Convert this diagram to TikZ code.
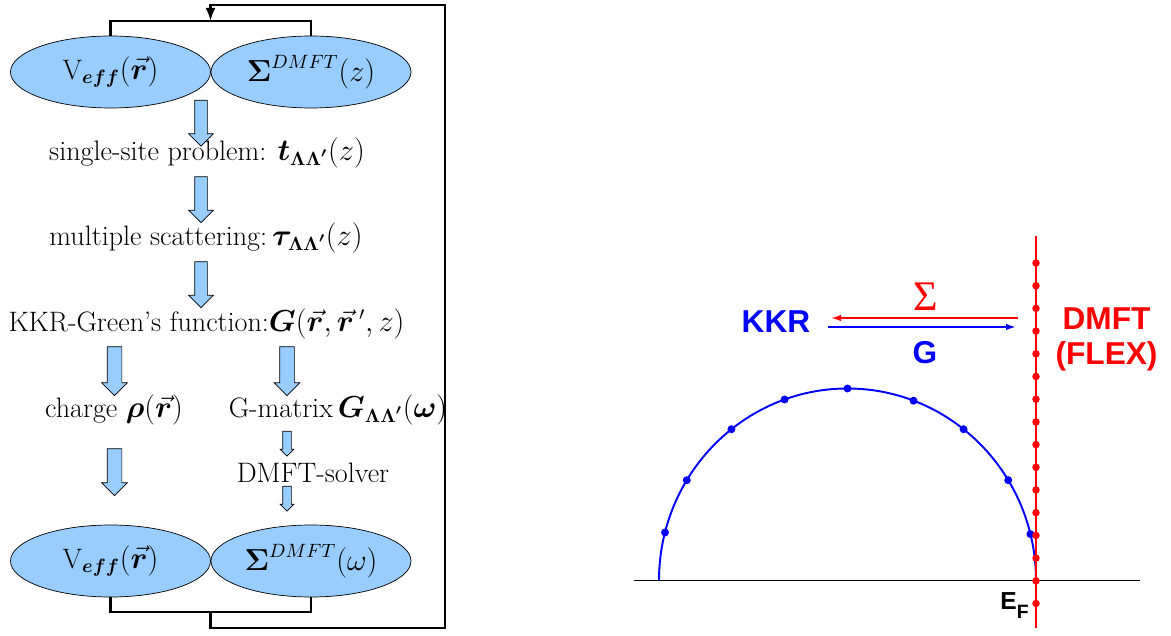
\documentclass[tikz,border=0pt]{standalone}
\usepackage{amsmath,bm}
\usepackage{fontspec}
\setsansfont{Liberation Sans}
\newfontfamily\sigmafont{Liberation Serif}
\usepackage{tikz}
\usetikzlibrary{arrows.meta,positioning,calc,shapes.geometric,shapes.arrows}
\definecolor{FlowBlue}{HTML}{99CCFF}

\tikzset{
  potnode/.style={ellipse, draw, fill=FlowBlue, minimum width=4cm, minimum height=1.44cm, inner sep=0pt},
  blockarr/.style={single arrow, draw, fill=FlowBlue, rotate=-90, inner xsep=0pt},
  widearr/.style={blockarr, inner ysep=0.12cm, single arrow head extend=0.12cm, minimum height=0.92cm},
  sidearr/.style={blockarr, inner ysep=0.14cm, single arrow head extend=0.11cm},
  thinarr/.style={blockarr, inner ysep=0.08cm, single arrow head extend=0.05cm, minimum height=0.5cm},
  looppath/.style={line width=1.6pt},
  steptext/.style={inner sep=1pt},
  bigsans/.style={font=\sffamily\bfseries\fontsize{18}{20}\selectfont}
}

\begin{document}
\begin{tikzpicture}[font=\fontsize{16}{19}\selectfont]
  \useasboundingbox (0,0) rectangle (23.42,12.7);

  % self-consistency loop (left)
  \node[potnode] (veffin) at (2.21,11.26) {$\mathrm{V}_{\bm{eff}}(\vec{\bm r})$};
  \node[potnode] (sigin) at (6.22,11.26) {$\bm{\Sigma}^{DMFT}(z)$};
  \node[potnode] (veffout) at (2.21,1.48) {$\mathrm{V}_{\bm{eff}}(\vec{\bm r})$};
  \node[potnode] (sigout) at (6.22,1.48) {$\bm{\Sigma}^{DMFT}(\omega)$};

  \coordinate (topjoin) at (4.21,12.28);
  \coordinate (botjoin) at (4.21,0.46);
  \draw[looppath] (veffin.north) |- (topjoin) -| (sigin.north);
  \draw[looppath] (veffout.south) |- (botjoin) -| (sigout.south);
  \draw[looppath,-{Latex[length=0.26cm,width=0.2cm]}] (botjoin) -- (4.21,0.14) -- (8.9,0.14)
    -- (8.9,12.6) -- (4.21,12.6) -- (topjoin);

  \node[steptext] (single) at (4.14,9.64) {single-site problem: $\bm{t}_{\bm{\Lambda\Lambda'}}(z)$};
  \node[steptext] (multi) at (4.12,7.94) {multiple scattering:$\,\bm{\tau}_{\bm{\Lambda\Lambda'}}(z)$};
  \node[steptext] (green) at (4.13,6.22) {KKR-Green's function:$\bm{G}(\vec{\bm r},\vec{\bm r}\,',z)$};
  \node[steptext] (charge) at (2.28,4.5) {charge $\bm{\rho}(\vec{\bm r})$};
  \node[steptext] (gmat) at (6.76,4.5) {G-matrix$\,\bm{G}_{\bm{\Lambda\Lambda'}}(\bm{\omega})$};
  \node[steptext] (solver) at (6.26,3.24) {DMFT-solver};

  \node[widearr] (a1) at (4.02,10.3) {};
  \node[widearr] (a2) at (4.02,8.77) {};
  \node[widearr] (a3) at (4.02,7.07) {};
  \node[sidearr, minimum height=0.98cm] (a4) at (2.29,5.35) {};
  \node[sidearr, minimum height=0.98cm] (a5) at (5.74,5.35) {};
  \node[sidearr, minimum height=0.94cm] (a6) at (2.29,3.33) {};
  \node[thinarr] (a7) at (5.74,3.87) {};
  \node[thinarr] (a8) at (5.74,2.77) {};

  % KKR <-> DMFT (right)
  \draw[line width=1pt] (12.68,1.09) -- (22.8,1.09);
  \draw[blue, line width=1.1pt] (20.72,1.09) arc[start angle=0, end angle=180, x radius=3.77, y radius=3.84];
  \foreach \a in {14,31.5,52,69.5,90,109.5,128,148.5,165.5}
    \fill[blue] (16.95,1.09) ++(\a:3.77 and 3.84) circle (0.08);
  \draw[red, line width=1.1pt] (20.72,0.14) -- (20.72,7.98);
  \foreach \i in {0,...,15}
    \fill[red] (20.72,{7.44-0.454*\i}) circle (0.075);

  \node[bigsans, text=blue] (kkr) at (15.52,6.27) {KKR};
  \node[bigsans, text=red, align=center] (dmft) at (22.13,5.92) {DMFT\\(FLEX)};
  \node[text=red, font=\sigmafont\fontsize{24}{26}\selectfont] (siglab) at (18.51,6.76) {Σ};
  \node[bigsans, text=blue] (glab) at (18.5,5.64) {G};
  \node[anchor=base west, inner sep=0pt, font=\sffamily\bfseries\fontsize{14}{16}\selectfont] (ef) at (20.0,0.52)
    {E\raisebox{-0.18cm}{\fontsize{11}{12}\selectfont F}};

  \coordinate (sigtail) at (20.35,6.34);
  \coordinate (sighead) at (16.62,6.34);
  \coordinate (gtail) at (16.55,6.16);
  \coordinate (ghead) at (20.32,6.16);
  \draw[red, line width=1pt, -{Latex[length=0.2cm,width=0.13cm]}] (sigtail) -- (sighead);
  \draw[blue, line width=1pt, -{Latex[length=0.2cm,width=0.13cm]}] (gtail) -- (ghead);
\end{tikzpicture}
\end{document}
